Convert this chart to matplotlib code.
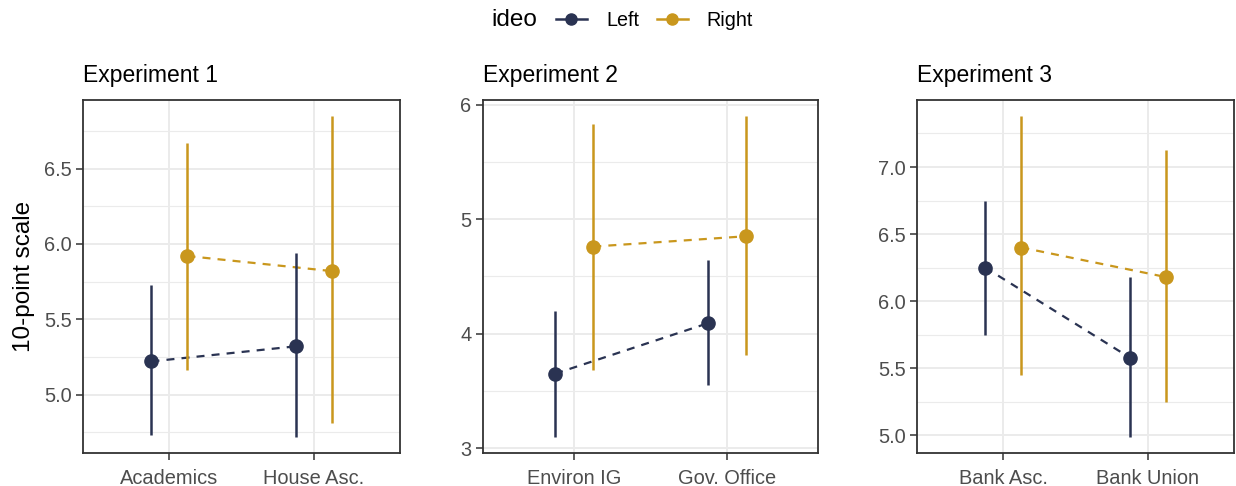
import matplotlib
matplotlib.use("Agg")
import matplotlib.pyplot as plt
import numpy as np
from matplotlib.lines import Line2D
from matplotlib.ticker import MultipleLocator, FormatStrFormatter

plt.rcParams["font.family"] = ["Liberation Sans", "DejaVu Sans"]

# ---- data -------------------------------------------------------------
titles = ["Experiment 1", "Experiment 2", "Experiment 3"]
categories = [
    ["Academics", "House Asc."],
    ["Environ IG", "Gov. Office"],
    ["Bank Asc.", "Bank Union"],
]
groups = ["Left", "Right"]

left_est = [[5.22, 5.32], [3.65, 4.09], [6.25, 5.58]]
left_lo = [[4.73, 4.72], [3.10, 3.55], [5.75, 4.99]]
left_hi = [[5.73, 5.94], [4.20, 4.64], [6.75, 6.18]]

right_est = [[5.92, 5.82], [4.76, 4.85], [6.40, 6.18]]
right_lo = [[5.16, 4.81], [3.68, 3.81], [5.45, 5.25]]
right_hi = [[6.67, 6.85], [5.83, 5.90], [7.38, 7.13]]

y_label = "10-point scale"
legend_title = "ideo"

# ---- style ------------------------------------------------------------
colors = {"Left": "#2A3352", "Right": "#C9971D"}
grid_col = "#EBEBEB"
frame_col = "#333333"
tick_col = "#4D4D4D"
dodge = 0.125

major_step = [0.5, 1.0, 0.5]
tick_fmt = ["%.1f", "%d", "%.1f"]

W, H = 1236, 486
fig = plt.figure(figsize=(W / 100, H / 100), dpi=100)

panel_px = [(83, 400), (482.7, 818.3), (916.7, 1234.3)]
top_px, bot_px = 100, 452.7

for i in range(3):
    x0, x1 = panel_px[i]
    ax = fig.add_axes([x0 / W, 1 - bot_px / H, (x1 - x0) / W, (bot_px - top_px) / H])
    xs = np.arange(1, len(categories[i]) + 1)

    series = [
        ("Left", left_est[i], left_lo[i], left_hi[i], -dodge),
        ("Right", right_est[i], right_lo[i], right_hi[i], dodge),
    ]
    for name, est, lo, hi, off in series:
        c = colors[name]
        xp = xs + off
        ax.plot(xp, est, color=c, lw=1.6, ls=(0, (3.6, 3.2)), zorder=3)
        ax.vlines(xp, lo, hi, color=c, lw=1.8, zorder=4)
        ax.plot(xp, est, "o", color=c, ms=9.5, mec=c, zorder=5)

    # y range with 5% expansion of the data span
    lows = left_lo[i] + right_lo[i]
    highs = left_hi[i] + right_hi[i]
    ymin, ymax = min(lows), max(highs)
    span = ymax - ymin
    ax.set_ylim(ymin - 0.05 * span, ymax + 0.05 * span)
    ax.set_xlim(0.4, len(categories[i]) + 0.6)

    ax.yaxis.set_major_locator(MultipleLocator(major_step[i]))
    ax.yaxis.set_minor_locator(MultipleLocator(major_step[i] / 2))
    ax.yaxis.set_major_formatter(FormatStrFormatter(tick_fmt[i]))
    ax.set_xticks(xs)
    ax.set_xticklabels(categories[i])

    ax.set_axisbelow(True)
    ax.grid(True, which="major", axis="both", color=grid_col, lw=1.4)
    ax.grid(True, which="minor", axis="y", color=grid_col, lw=0.8)

    for sp in ax.spines.values():
        sp.set_color(frame_col)
        sp.set_linewidth(1.3)

    ax.tick_params(axis="both", which="major", colors=frame_col, labelcolor=tick_col,
                   labelsize=14.4, length=5, width=1.1)
    ax.tick_params(axis="y", which="major", pad=3)
    ax.tick_params(axis="x", which="major", pad=6.5)
    ax.tick_params(which="minor", length=0)

    ax.set_title(titles[i], loc="left", fontsize=16.5, pad=13, color="black")

fig.text(24 / W, 1 - 276 / H, y_label, rotation=90, ha="center", va="center",
         fontsize=17.5, color="black")

# legend across the top
fig.text(491.7 / W, 1 - 20 / H, legend_title, ha="left", va="center",
         fontsize=17.5, color="black")
handles = [Line2D([0], [0], color=colors[g], lw=1.8, marker="o", ms=8,
                  mec=colors[g]) for g in groups]
fig.legend(handles, groups, loc="center left", bbox_to_anchor=(556 / W, 1 - 20 / H),
           ncol=2, frameon=False, fontsize=14.2, handlelength=1.57,
           handletextpad=0.96, columnspacing=0.91, borderpad=0, borderaxespad=0)

fig.savefig("out.png", dpi=100, facecolor="white")
